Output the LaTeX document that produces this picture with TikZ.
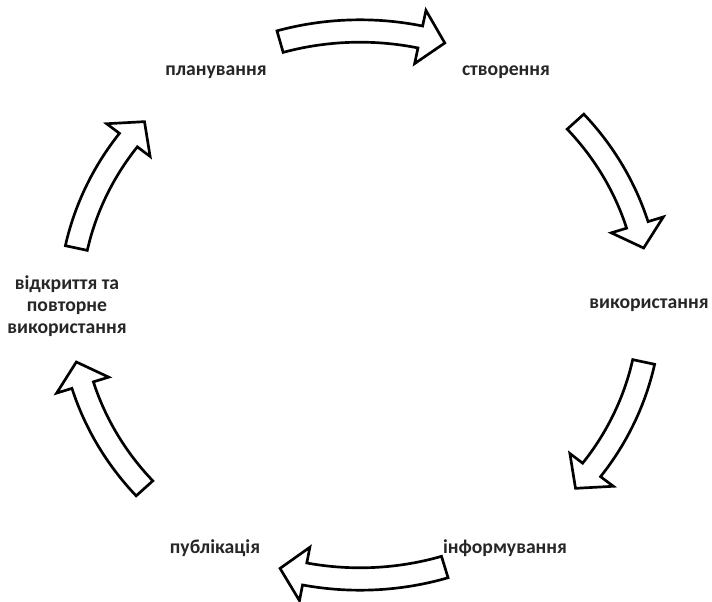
\documentclass[tikz,border=0pt]{standalone}
\usepackage{fontspec}
\setmainfont{Carlito}
\usepackage{tikz}
\tikzset{
	blockarrow/.style={draw=black, line width=1.9pt, fill=white, line join=miter},
	stage/.style={font=\fontsize{14}{15.5}\selectfont\bfseries, text=black!85, align=center, inner sep=1pt}
}
% curved block arrow on the ellipse: start angle, head base angle, tip angle
\newcommand{\cyclearrow}[3]{%
  \draw[blockarrow] (#1:7.53 and 7.13) arc[start angle=#1, end angle=#2, x radius=7.53, y radius=7.13]
    -- (#2:7.93 and 7.53) -- (#3:7.25 and 6.85) -- (#2:6.57 and 6.17) -- (#2:6.97 and 6.57)
    arc[start angle=#2, end angle=#1, x radius=6.97, y radius=6.57] -- cycle;
}

\begin{document}
\begin{tikzpicture}
\useasboundingbox (0,0) rectangle (17.8,15.025);

\node[stage] (plan) at (5.4,13.225) {планування};
\node[stage] (create) at (12.65,13.225) {створення};
\node[stage] (use) at (16.225,7.4) {використання};
\node[stage] (inform) at (12.625,1.325) {інформування};
\node[stage] (publish) at (5.375,1.325) {публікація};
\node[stage] (reuse) at (1.675,7.375) {відкриття та\\повторне\\використання};

\begin{scope}[shift={(9,7.4)}]
\cyclearrow{106}{78}{73}
\cyclearrow{42}{17}{12}
\cyclearrow{-12}{-37}{-42}
\cyclearrow{-73}{-101}{-106}
\cyclearrow{-138}{-163}{-168}
\cyclearrow{168}{143}{138}
\end{scope}
\end{tikzpicture}
\end{document}
